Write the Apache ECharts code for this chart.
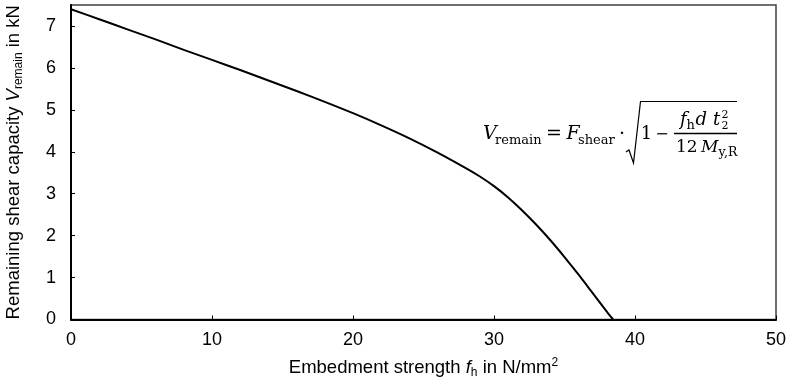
<!DOCTYPE html>
<html>
<head>
<meta charset="utf-8">
<script src="https://cdn.jsdelivr.net/npm/echarts@6/dist/echarts.min.js"></script>
<style>
  html, body { margin: 0; padding: 0; background: #fff; }
  #main { width: 786px; height: 386px; }
</style>
</head>
<body>
<div id="main"></div>
<script>
// embedment strength f_h (N/mm2) and remaining shear capacity V_remain (kN)
const fhValues = [0, 2, 4, 6, 8, 10, 12, 14, 16, 18, 20, 22, 24, 26, 28, 29, 30, 31, 32, 33, 34, 35, 36, 37, 38, 38.45];
const vRemain = [7.40, 7.16, 6.92, 6.68, 6.43, 6.19, 5.95, 5.70, 5.45, 5.19, 4.92, 4.63, 4.32, 3.98, 3.61, 3.41, 3.18, 2.91, 2.60, 2.26, 1.89, 1.49, 1.07, 0.63, 0.19, 0];

const xTicks = [0, 10, 20, 30, 40, 50];
const yTicks = [0, 1, 2, 3, 4, 5, 6, 7];

const sans = 'Liberation Sans, Arial, sans-serif';
const serif = 'DejaVu Serif, serif';

// text piece of the formula, placed by its baseline
function piece(text, x, baseline, size, opts) {
  opts = opts || {};
  return {
    type: 'text',
    z: 10,
    x: x,
    y: baseline - 0.34 * size,
    style: {
      text: text,
      fontFamily: serif,
      fontSize: size,
      fontStyle: opts.italic ? 'italic' : 'normal',
      fill: '#000',
      align: opts.align || 'left',
      verticalAlign: 'middle'
    }
  };
}

const chart = echarts.init(document.getElementById('main'));

const option = {
  animation: false,
  grid: {
    left: 71,
    right: 10,
    top: 5,
    bottom: 66.5,
    outerBoundsMode: 'none',
    containLabel: false,
    show: true,
    borderColor: '#404040',
    borderWidth: 1.5
  },
  xAxis: {
    type: 'value',
    min: xTicks[0],
    max: xTicks[xTicks.length - 1],
    interval: 10,
    name: 'Embedment strength {i|f}{sub|h} in N/mm{sup|2}',
    nameLocation: 'middle',
    nameGap: 37,
    nameTextStyle: {
      fontFamily: sans,
      fontSize: 18.5,
      color: '#000',
      rich: {
        i: { fontFamily: sans, fontSize: 18.5, fontStyle: 'italic', color: '#000' },
        sub: { fontFamily: sans, fontSize: 12, color: '#000', padding: [10, 0, 0, 0] },
        sup: { fontFamily: sans, fontSize: 12, color: '#000', padding: [0, 0, 10, 0] }
      }
    },
    axisLine: { show: true, onZero: false, lineStyle: { color: '#000', width: 2 } },
    axisTick: { show: true, inside: true, length: 4, lineStyle: { color: '#000', width: 1 } },
    axisLabel: { fontFamily: sans, fontSize: 18, color: '#000', margin: 12 },
    splitLine: { show: false }
  },
  yAxis: {
    type: 'value',
    min: yTicks[0],
    max: 7.5,
    interval: 1,
    name: 'Remaining shear capacity {i|V}{sub|remain} in kN',
    nameLocation: 'middle',
    nameGap: 46,
    nameRotate: 90,
    nameTextStyle: {
      fontFamily: sans,
      fontSize: 18.5,
      color: '#000',
      rich: {
        i: { fontFamily: sans, fontSize: 18.5, fontStyle: 'italic', color: '#000' },
        sub: { fontFamily: sans, fontSize: 12, color: '#000', padding: [10, 0, 0, 0] }
      }
    },
    axisLine: { show: true, onZero: false, lineStyle: { color: '#000', width: 2 } },
    axisTick: { show: true, inside: true, length: 4, lineStyle: { color: '#000', width: 1 } },
    axisLabel: { fontFamily: sans, fontSize: 18, color: '#000', margin: 15, showMaxLabel: false },
    splitLine: { show: false }
  },
  series: [
    {
      type: 'line',
      data: fhValues.map((x, i) => [x, vRemain[i]]),
      showSymbol: false,
      smooth: 0.3,
      lineStyle: { color: '#000', width: 2 },
      z: 5
    }
  ],
  graphic: [
    // V_remain = F_shear ·
    piece('V', 483, 140.5, 19, { italic: true }),
    piece('remain', 495, 145, 13),
    piece('=', 554, 140.5, 19, { align: 'center' }),
    piece('F', 566.5, 140.5, 19, { italic: true }),
    piece('shear', 578, 145, 13),
    piece('·', 622, 140.5, 19, { align: 'center' }),
    // radical
    {
      type: 'polyline',
      z: 10,
      shape: { points: [[626, 152], [629, 150], [633.5, 163], [640.5, 101.5], [737, 101.5]] },
      style: { stroke: '#000', lineWidth: 1.2, fill: null }
    },
    piece('1', 646.5, 140.5, 18, { align: 'center' }),
    piece('−', 662, 140.5, 16, { align: 'center' }),
    // fraction
    {
      type: 'line',
      z: 10,
      shape: { x1: 674, y1: 133.5, x2: 737, y2: 133.5 },
      style: { stroke: '#000', lineWidth: 1.3 }
    },
    piece('f', 680, 126.5, 18, { italic: true }),
    piece('h', 686.5, 130, 13),
    piece('d', 695.5, 126.5, 18, { italic: true }),
    piece('t', 713, 126.5, 18, { italic: true }),
    piece('2', 721.5, 118.5, 11),
    piece('2', 721.5, 129.5, 11),
    piece('12', 676, 153, 17),
    piece('M', 701, 153, 17, { italic: true }),
    piece('y,R', 718.5, 157, 12.5)
  ]
};

chart.setOption(option);
</script>
</body>
</html>
